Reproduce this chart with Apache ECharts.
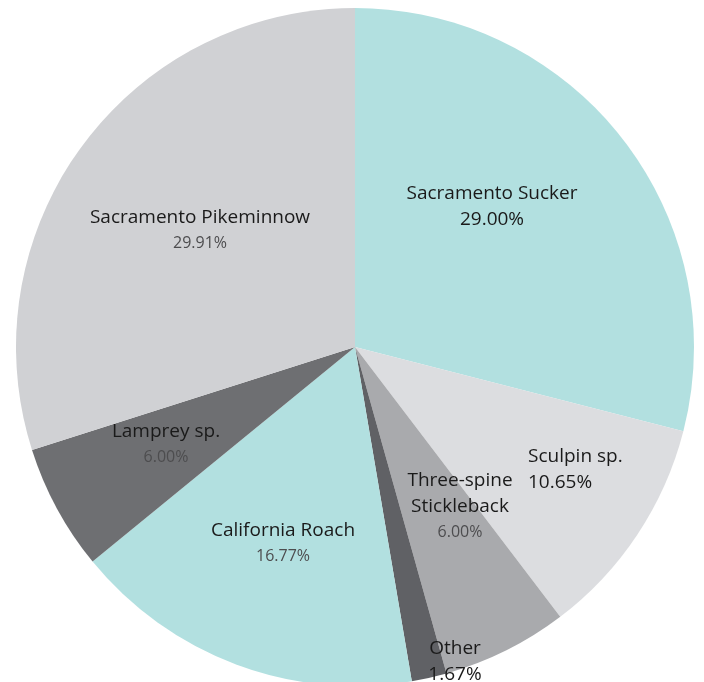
<!DOCTYPE html>
<html>
<head>
<meta charset="utf-8">
<script src="https://cdn.jsdelivr.net/npm/echarts@6/dist/echarts.min.js"></script>
<style>
  html, body { margin: 0; padding: 0; background: #ffffff; }
  #chart { width: 704px; height: 682px; }
</style>
</head>
<body>
<div id="chart"></div>
<script>
// ---- data ----
const categories = ['Sacramento Sucker', 'Sculpin sp.', 'Three-spine Stickleback', 'Other', 'California Roach', 'Lamprey sp.', 'Sacramento Pikeminnow'];
const values = [29.00, 10.65, 6.00, 1.67, 16.77, 6.00, 29.91];

// ---- styling / layout ----
const sliceColors = ['#b2e0e0', '#dcdde0', '#a9aaad', '#606165', '#b2e0e0', '#6e6f72', '#d0d1d4'];
const pctStyle = ['p', 'p', 'g', 'p', 'g', 'g', 'g'];
const labelAnchors = [
  { x: 492, y: 207, align: 'center' },
  { x: 528, y: 470, align: 'left' },
  { x: 460, y: 506, align: 'center' },
  { x: 455, y: 662, align: 'center' },
  { x: 283, y: 543, align: 'center' },
  { x: 166, y: 444, align: 'center' },
  { x: 200, y: 230, align: 'center' }
];

const chart = echarts.init(document.getElementById('chart'), null, { renderer: 'canvas' });
const font = '"Open Sans", "Noto Sans", sans-serif';

chart.setOption({
  animation: false,
  backgroundColor: '#ffffff',
  series: [{
    type: 'pie',
    center: [355, 347],
    radius: [0, 339],
    startAngle: 90,
    clockwise: true,
    avoidLabelOverlap: false,
    itemStyle: { borderWidth: 0 },
    emphasis: { disabled: true },
    data: categories.map((c, i) => ({
      name: c,
      value: values[i],
      itemStyle: { color: sliceColors[i] }
    })),
    label: {
      show: true,
      position: 'inside',
      fontFamily: font,
      formatter: function (p) {
        const nm = p.name.replace('Three-spine ', 'Three-spine\n');
        const lines = nm.split('\n').map(l => '{n|' + l + '}').join('\n');
        const st = pctStyle[p.dataIndex];
        return lines + '\n{' + st + '|' + p.value.toFixed(2) + '%}';
      },
      rich: {
        n: { fontFamily: font, fontSize: 19, color: '#1a1a1a', lineHeight: 26 },
        p: { fontFamily: font, fontSize: 19, color: '#1a1a1a', lineHeight: 26 },
        g: { fontFamily: font, fontSize: 16, color: '#4d4d4f', lineHeight: 24 }
      }
    },
    labelLine: { show: false },
    labelLayout: function (params) {
      const a = labelAnchors[params.dataIndex];
      return { x: a.x, y: a.y, align: a.align, verticalAlign: 'middle' };
    }
  }]
});
</script>
</body>
</html>
